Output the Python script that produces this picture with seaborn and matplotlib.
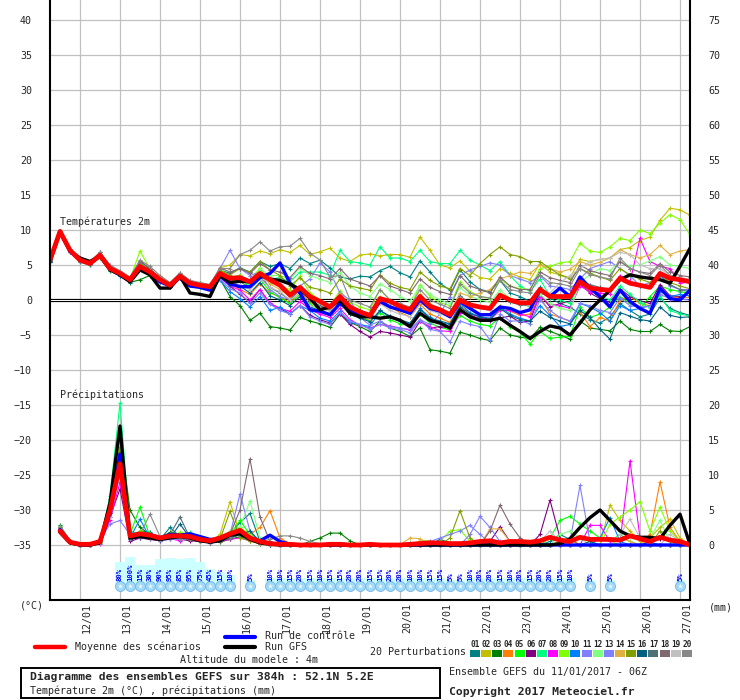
import numpy as np
import pandas as pd
import matplotlib
matplotlib.use("Agg")
import matplotlib.pyplot as plt
import matplotlib.transforms as mtransforms
from matplotlib.lines import Line2D
from matplotlib.patches import Rectangle
import seaborn as sns

sns.set_style("white")
plt.rcParams['font.family'] = ['DejaVu Sans Mono', 'DejaVu Sans']

# ---------------- data ----------------
hours_t = list(range(0, 385, 6))      # temperature steps (h since 11/01 06Z)
hours_p = list(range(6, 385, 6))      # precipitation steps
day_hours = list(range(18, 385, 24))  # 00Z of each day
day_labels = ["12/01", "13/01", "14/01", "15/01", "16/01", "17/01", "18/01", "19/01",
              "20/01", "21/01", "22/01", "23/01", "24/01", "25/01", "26/01", "27/01"]

t_mean = [5.7, 9.8, 7.1, 5.7, 5.2, 6.4, 4.5, 3.8, 2.9, 4.8, 4.0, 2.9, 2.1, 3.4, 2.4, 2.1, 1.9,
          3.8, 3.1, 3.2, 2.6, 3.8, 2.9, 2.1, 0.7, 1.8, 0.5, -0.2, -1.0, 0.5, -1.0, -1.7, -2.2,
          0.2, -0.2, -0.9, -1.4, 0.5, -0.9, -1.4, -2.1, 0.0, -0.7, -1.0, -1.2, 0.7, 0.0, -0.4, -0.4,
          1.5, 0.5, 0.5, 0.5, 2.6, 1.7, 1.5, 1.4, 3.1, 2.4, 2.1, 1.8, 3.8, 3.1, 2.9, 2.6]
t_gfs = [5.5, 9.7, 7.0, 6.0, 5.5, 6.3, 4.3, 3.6, 2.6, 4.3, 3.6, 1.7, 1.7, 3.4, 1.0, 0.8, 0.5,
         3.5, 2.5, 2.7, 2.6, 3.5, 3.0, 2.8, 2.3, 1.5, 0.3, -1.4, -1.0, 0.0, -1.9, -2.4, -2.4,
         -2.6, -2.4, -2.9, -3.8, -1.9, -2.9, -3.3, -4.0, -1.4, -2.4, -2.9, -2.9, -2.6, -3.6, -4.5, -5.5,
         -4.5, -3.7, -4.0, -5.0, -3.3, -1.4, 0.0, 1.4, 2.9, 3.6, 3.3, 3.1, 2.9, 2.4, 4.8, 7.4]
t_ctrl = [5.6, 9.8, 7.0, 5.8, 5.2, 6.4, 4.4, 3.6, 2.7, 4.5, 3.7, 2.6, 2.0, 3.2, 2.0, 1.8, 1.4,
          3.5, 2.3, 1.9, 1.9, 3.2, 3.8, 5.3, 2.4, 1.0, -1.4, -1.6, -2.1, -0.5, -1.4, -2.1, -2.2,
          -0.2, -1.0, -1.4, -1.9, 0.0, -1.2, -1.6, -2.4, -0.2, -1.2, -2.1, -2.1, -1.0, -1.2, -1.8, -1.4,
          1.4, 0.5, 1.7, 0.5, 3.3, 1.7, 0.5, -1.0, 1.4, -0.2, -1.2, -1.9, 1.7, 0.2, 0.0, 1.4]

t01 = [5.5, 9.6, 7.3, 5.9, 5.0, 6.6, 4.8, 3.9, 3.1, 5.1, 4.3, 3.2, 2.4, 3.7, 2.6, 2.3, 2.0,
       4.3, 3.8, 4.6, 4.0, 5.5, 4.8, 5.2, 4.5, 6.0, 5.2, 5.7, 4.6, 3.3, 3.0, 3.4, 3.3,
       4.2, 4.8, 3.9, 3.3, 5.6, 4.0, 2.4, 1.4, 4.3, 2.6, 1.5, 1.2, 2.8, 1.0, 0.5, -0.2,
       1.8, 0.3, -0.5, -1.0, -2.0, -2.8, -3.3, -2.4, -0.5, -1.5, -2.4, -2.0, 0.3, -1.2, -1.8, -2.2]
t02 = [5.8, 9.9, 7.0, 5.5, 5.3, 6.2, 4.6, 3.6, 2.8, 4.6, 3.8, 2.7, 1.9, 3.3, 2.2, 1.9, 1.7,
       4.6, 5.0, 6.5, 6.3, 7.0, 6.6, 7.2, 6.8, 7.8, 6.5, 6.9, 7.4, 6.0, 5.5, 6.4, 6.6,
       6.3, 6.5, 6.5, 6.1, 9.0, 7.1, 5.0, 4.6, 5.6, 4.1, 3.2, 3.0, 4.5, 3.8, 3.3, 2.9,
       5.2, 4.0, 3.6, 3.2, 5.8, 5.5, 5.8, 6.0, 7.2, 7.5, 8.5, 9.0, 11.4, 13.1, 12.9, 12.1]
t03 = [5.6, 9.7, 6.9, 5.6, 5.1, 6.0, 4.2, 3.5, 2.5, 2.9, 3.5, 2.7, 1.8, 3.2, 2.2, 1.9, 1.6,
       3.0, 0.5, -0.8, -2.9, -1.9, -3.8, -4.0, -4.3, -2.5, -3.0, -3.4, -3.9, -2.0, -3.2, -3.8, -4.5,
       -3.0, -4.0, -4.5, -5.2, -4.0, -7.1, -7.3, -7.6, -4.6, -5.0, -5.5, -5.8, -4.0, -5.0, -5.3, -5.5,
       -3.9, -4.5, -5.0, -5.6, -3.0, -4.0, -4.2, -4.4, -3.0, -4.2, -4.5, -4.5, -3.5, -4.4, -4.5, -3.8]
t04 = [5.7, 9.8, 7.2, 5.8, 5.3, 6.5, 4.6, 4.0, 3.0, 4.9, 4.1, 3.4, 2.3, 3.6, 2.5, 2.2, 2.0,
       3.5, 2.5, 1.5, 0.8, 2.3, 1.0, 0.5, -0.4, 1.2, -0.3, -1.0, -1.5, 0.0, -1.8, -2.5, -2.9,
       -0.4, -1.0, -1.8, -2.4, -0.6, -2.0, -2.6, -3.2, -0.8, -1.9, -2.4, -2.6, -0.8, -1.6, -2.2, -2.0,
       0.5, -2.0, -2.5, -3.0, -1.7, -3.8, -2.5, -3.0, 0.0, 0.5, -0.5, -0.8, 1.7, 0.5, 0.3, 0.4]
t05 = [5.6, 9.7, 7.0, 5.4, 5.0, 6.3, 4.4, 3.7, 2.8, 5.3, 4.2, 2.9, 2.0, 3.5, 2.1, 1.8, 1.6,
       3.9, 2.9, 3.6, 1.5, 3.0, 1.2, 0.3, -0.5, 0.8, -0.6, -1.4, -2.0, -0.5, -2.0, -2.5, -3.0,
       -1.8, -2.8, -3.4, -3.6, -2.0, -3.3, -3.9, -4.3, -2.2, -3.0, -3.5, -3.7, -2.5, -3.8, -4.6, -6.3,
       -4.5, -5.5, -5.3, -5.2, -1.0, -2.5, -2.0, -1.0, 0.5, -0.5, -1.2, 0.5, 2.0, 1.5, 1.2, 1.0]
t06 = [5.5, 9.5, 6.8, 5.6, 5.3, 6.8, 4.9, 3.9, 3.1, 5.6, 4.4, 3.0, 2.2, 3.4, 2.4, 2.1, 1.8,
       3.3, 2.0, 0.8, -0.3, 1.5, -0.5, -1.2, -2.0, -0.8, -2.2, -2.8, -3.3, -2.0, -3.5, -4.5, -5.3,
       -4.5, -4.7, -5.0, -5.3, -3.0, -4.0, -3.8, -4.0, -1.5, -2.3, -2.9, -3.0, -2.6, -2.3, -3.2, -3.0,
       0.8, -1.0, -0.5, -0.2, 2.3, 1.0, 0.2, -0.3, 1.6, 0.5, -0.1, -0.5, 2.2, 0.6, 0.5, 1.0]
t07 = [5.8, 9.9, 7.1, 5.7, 5.3, 6.5, 4.6, 3.8, 2.8, 5.0, 4.1, 3.0, 2.2, 3.5, 2.5, 2.4, 2.0,
       4.0, 3.4, 2.8, 2.2, 4.3, 3.0, 3.2, 2.6, 4.0, 4.0, 4.0, 3.5, 7.1, 5.5, 5.3, 5.0,
       7.6, 6.0, 6.0, 5.5, 7.1, 5.5, 5.2, 5.2, 7.1, 5.7, 5.0, 4.2, 5.5, 3.5, 2.0, 1.2,
       3.0, 0.5, 0.0, -0.5, 2.5, 1.3, 0.6, 0.0, 2.0, 0.8, -0.3, -1.2, 0.6, -1.5, -2.0, -2.3]
t08 = [5.6, 9.8, 7.0, 5.6, 5.2, 6.3, 4.5, 3.6, 2.8, 4.7, 3.9, 2.8, 2.0, 3.3, 2.3, 2.0, 1.8,
       3.2, 2.0, 1.4, 0.0, 1.5, -0.5, -1.2, -1.6, -0.2, -1.4, -2.0, -2.5, -1.2, -2.8, -3.6, -4.0,
       -3.5, -3.7, -4.0, -4.3, -3.0, -3.8, -4.4, -4.5, -1.8, -2.2, -2.6, -2.8, -1.5, -1.5, -2.0, -2.4,
       0.5, -0.6, -0.8, -1.2, 2.0, 1.2, 1.0, 0.8, 3.5, 2.6, 8.8, 5.5, 4.8, 4.5, 2.4, 2.6]
t09 = [5.7, 9.8, 7.1, 5.8, 5.3, 6.6, 4.7, 3.9, 3.0, 7.0, 4.4, 3.1, 2.2, 3.6, 2.6, 2.3, 2.1,
       4.5, 3.3, 3.5, 2.8, 4.6, 2.5, 2.0, 1.5, 3.4, 1.0, 0.0, -0.8, 1.3, -0.3, -1.0, -1.4,
       1.5, 0.0, -0.6, -1.2, 2.2, 0.5, -0.4, -0.8, 2.6, 1.2, 0.5, 0.2, 3.0, 2.0, 1.6, 1.5,
       4.5, 4.8, 5.3, 5.5, 8.1, 7.0, 6.8, 7.6, 8.8, 8.5, 10.0, 9.5, 11.0, 12.2, 11.5, 9.3]
t10 = [5.5, 9.6, 6.9, 5.6, 5.1, 6.2, 4.3, 3.5, 2.6, 4.5, 3.7, 2.6, 1.9, 3.1, 2.2, 2.0, 1.7,
       2.8, 1.2, 0.2, -1.0, 0.5, -1.5, -1.0, -2.0, -0.8, -1.5, -2.6, -3.0, -1.6, -3.2, -3.5, -3.8,
       -1.5, -2.5, -3.0, -3.4, -1.2, -2.5, -3.2, -3.5, -0.5, -1.8, -2.4, -2.6, -1.0, -2.0, -2.6, -3.0,
       -0.8, -2.2, -3.8, -3.5, -0.5, -1.0, -1.8, -3.0, -0.8, -1.5, -1.2, -0.8, 1.2, 0.5, 0.8, 0.6]
t11 = [5.7, 9.7, 7.2, 5.7, 5.2, 6.4, 4.5, 3.8, 2.9, 4.8, 4.0, 2.9, 2.1, 3.4, 2.4, 2.1, 1.9,
       4.5, 7.1, 4.5, 3.5, 4.0, 1.5, 0.5, 0.0, 2.0, 3.0, 5.3, 4.0, 1.0, 0.0, -2.5, -3.6,
       -3.0, -3.8, -4.0, -4.2, -2.8, -3.5, -2.0, 0.5, 3.5, 4.3, 4.8, 5.3, 5.0, 3.5, 3.0, 2.5,
       3.5, 2.0, 1.8, 1.5, 3.0, 4.5, 5.0, 5.5, 4.5, 3.5, 2.0, 2.5, 3.5, 2.0, 1.5, 1.5]
t12 = [5.8, 9.9, 7.0, 5.7, 5.3, 6.5, 4.6, 3.9, 3.0, 4.9, 4.1, 3.0, 2.2, 3.5, 2.5, 2.3, 2.0,
       4.0, 3.2, 3.0, 2.5, 4.4, 3.5, 3.5, 3.0, 4.6, 3.5, 3.0, 2.5, 4.0, 2.0, 1.0, 0.5,
       2.3, 1.5, 0.5, -0.2, 2.0, 0.8, 0.0, -0.5, 1.8, 0.6, 0.0, -0.3, 1.4, 0.3, -0.5, -1.0,
       0.8, -0.5, -1.2, -1.5, 2.5, 3.6, 4.5, 4.2, 5.5, 4.8, 5.0, 5.6, 6.2, 5.0, 4.8, 4.5]
t13 = [5.6, 9.7, 6.9, 5.5, 5.0, 6.2, 4.4, 3.7, 2.8, 4.6, 3.8, 2.7, 1.9, 3.2, 2.3, 2.0, 1.8,
       3.0, 1.6, 1.0, -0.5, 1.0, -0.6, -1.5, -2.0, -0.8, -2.4, -3.0, -3.5, -1.8, -3.0, -3.5, -4.2,
       -3.4, -4.0, -4.2, -4.7, -2.8, -4.2, -4.5, -6.0, -3.0, -3.5, -3.8, -5.7, -2.0, -3.0, -3.0, -3.4,
       0.0, -1.5, -2.5, -3.0, -0.5, -0.8, -1.5, -1.8, 0.3, -0.8, -1.0, -0.9, 0.8, 0.2, 0.1, 0.0]
t14 = [5.7, 9.8, 7.1, 5.7, 5.2, 6.3, 4.5, 3.8, 2.9, 4.9, 4.1, 3.3, 2.0, 3.4, 2.7, 2.2, 1.8,
       3.8, 3.0, 3.4, 2.8, 3.6, 2.3, 1.5, 0.5, 2.0, 0.3, -0.4, -1.0, 0.8, -0.8, -1.5, -2.0,
       0.5, -0.3, -1.0, -1.5, 0.8, -0.6, -1.3, -1.8, 1.0, 0.5, 1.0, 1.5, 3.0, 3.5, 4.0, 3.8,
       5.0, 4.5, 4.0, 4.4, 5.5, 5.0, 5.4, 6.0, 7.2, 6.5, 6.0, 6.5, 7.8, 6.5, 7.0, 7.2]
t15 = [5.6, 9.8, 7.2, 5.8, 5.3, 6.5, 4.4, 3.8, 2.9, 4.7, 4.0, 2.9, 2.1, 3.3, 2.5, 2.2, 1.9,
       4.2, 3.6, 4.5, 4.0, 5.5, 4.3, 3.5, 2.0, 3.2, 1.8, 1.5, 1.0, 3.0, 2.0, 1.7, 1.4,
       3.6, 2.4, 1.8, 1.5, 4.0, 2.8, 2.0, 1.6, 4.5, 3.5, 5.2, 6.5, 7.6, 6.5, 6.2, 5.5,
       5.5, 4.5, 3.6, 3.0, 4.5, 3.8, 3.3, 2.8, 4.5, 3.6, 3.0, 2.5, 3.8, 2.5, 2.0, 1.6]
t16 = [5.6, 9.7, 7.0, 5.6, 5.1, 6.3, 4.4, 3.6, 2.7, 4.6, 3.8, 2.7, 2.0, 3.2, 2.3, 2.0, 1.7,
       3.4, 2.2, 2.0, 1.0, 2.5, 0.6, 0.0, -0.8, 0.5, -1.0, -1.5, -2.0, -0.6, -2.0, -2.6, -3.1,
       -1.5, -2.3, -2.8, -3.3, -1.4, -2.6, -3.0, -3.4, -1.0, -2.0, -2.4, -2.8, -1.2, -2.2, -2.8, -3.0,
       -1.6, -2.5, -3.0, -3.4, -1.5, -2.5, -4.2, -5.6, -1.8, -2.3, -2.8, -3.0, -1.0, -2.2, -2.5, -2.4]
t17 = [5.7, 9.8, 7.1, 5.7, 5.2, 6.4, 4.5, 3.7, 2.8, 4.8, 4.0, 2.8, 2.0, 3.3, 2.4, 2.1, 1.8,
       3.7, 2.8, 2.6, 1.8, 3.2, 1.8, 1.0, 0.0, 1.5, 0.0, -0.8, -1.3, 0.5, -1.0, -1.5, -2.2,
       0.0, -0.8, -1.4, -1.8, 0.3, -0.8, -1.5, -2.0, 0.6, -0.5, -1.0, -1.5, 0.5, -0.3, -0.7, -0.8,
       1.5, 0.8, 0.5, 0.5, 2.8, 2.2, 1.8, 1.5, 3.2, 2.5, 2.0, 2.0, 3.6, 2.2, 1.5, 1.2]
t18 = [5.8, 9.9, 7.2, 5.9, 5.4, 6.8, 4.8, 4.0, 3.1, 5.5, 4.5, 3.2, 2.3, 3.8, 2.7, 2.4, 2.2,
       4.6, 4.0, 4.5, 3.8, 5.2, 4.3, 4.0, 3.2, 4.8, 3.8, 3.5, 3.0, 4.5, 3.0, 2.5, 2.0,
       3.5, 2.0, 1.5, 1.0, 3.0, 1.8, 1.2, 0.8, 3.5, 2.0, 1.5, 1.0, 3.3, 2.0, 1.5, 1.5,
       4.0, 3.2, 2.8, 2.5, 5.0, 4.2, 3.8, 3.5, 5.5, 4.5, 4.0, 3.8, 5.2, 4.0, 3.5, 3.3]
t19 = [5.7, 9.8, 7.1, 5.7, 5.3, 6.5, 4.6, 3.9, 3.0, 4.9, 4.1, 3.0, 2.2, 3.5, 2.4, 2.2, 2.0,
       3.6, 2.6, 2.2, 1.5, 3.0, 1.8, 1.2, 0.0, 1.0, -0.8, -1.2, -1.6, 0.2, -1.4, -2.0, -2.6,
       -0.5, -1.5, -2.0, -2.4, -0.2, -1.5, -2.0, -2.4, 0.3, -0.8, -1.2, -1.5, 0.5, 0.0, -0.5, -0.8,
       1.5, 1.0, 2.5, 3.5, 4.5, 5.5, 5.8, 6.0, 6.8, 6.5, 5.0, 4.5, 4.5, 3.5, 3.2, 3.0]
t20 = [5.8, 9.9, 7.3, 6.0, 5.5, 6.8, 5.0, 4.2, 3.3, 5.7, 4.8, 3.5, 2.5, 3.9, 2.8, 2.5, 2.2,
       4.5, 4.5, 6.5, 7.1, 8.3, 7.0, 7.6, 7.7, 8.8, 6.7, 5.7, 3.3, 3.5, 0.0, -0.5, -1.0,
       1.5, 0.0, -0.5, -1.0, 1.5, 0.0, -0.6, -1.2, 2.3, 1.0, 0.5, 0.3, 2.8, 1.5, 1.2, 1.0,
       3.6, 2.5, 2.3, 2.0, 4.5, 3.6, 3.3, 3.0, 6.0, 4.5, 4.0, 3.5, 5.0, 3.5, 3.0, 2.5]

p_mean = [2.0, 0.4, 0.1, 0.1, 0.5, 5.0, 11.6, 1.3, 1.6, 1.4, 1.0, 1.3, 1.3, 1.2, 0.8, 0.6, 1.0, 1.6, 2.1, 1.0,
          0.5, 0.2, 0.1, 0.1, 0.0, 0.0, 0.0, 0.1, 0.1, 0.0, 0.0, 0.1, 0.0, 0.0, 0.0, 0.1, 0.2, 0.3, 0.3, 0.2,
          0.2, 0.3, 0.5, 0.6, 0.3, 0.5, 0.5, 0.4, 0.6, 1.1, 0.7, 0.5, 1.1, 0.8, 0.8, 0.8, 0.7, 1.3, 0.9, 0.5,
          1.1, 0.7, 0.5, 0.0]
p_gfs = [1.8, 0.3, 0, 0, 0.3, 6.0, 17.0, 1.0, 1.2, 1.0, 0.8, 1.0, 1.2, 1.0, 0.6, 0.4, 0.6, 1.4, 1.6, 0.8,
         0.3, 0.1, 0, 0, 0, 0, 0, 0, 0, 0, 0, 0, 0, 0, 0, 0, 0, 0, 0, 0,
         0, 0, 0, 0, 0, 0, 0, 0, 0, 0, 0.2, 0.9, 2.5, 3.9, 5.0, 3.5, 2.0, 1.3, 1.1, 1.1,
         0.9, 2.8, 4.4, 0.1]
p_ctrl = [2.2, 0.4, 0, 0, 0.4, 4.5, 13.0, 1.2, 1.5, 1.5, 1.0, 1.5, 1.4, 1.6, 1.2, 0.8, 0.8, 1.5, 1.8, 1.0,
          0.6, 1.4, 0.5, 0.1, 0, 0, 0, 0, 0, 0, 0, 0, 0, 0, 0, 0, 0, 0, 0, 0,
          0, 0, 0, 0, 0, 0, 0, 0, 0, 0, 0, 0, 0, 0, 0, 0, 0, 0, 0, 0,
          0, 0, 0, 0]

p01 = [2.6, 0.5, 0, 0, 0.6, 6.5, 14.0, 1.2, 2.0, 1.8, 0.8, 2.5, 1.2, 0.8, 0.5, 0.3, 0.6, 1.5, 3.2, 4.5,
       0.5, 0.2, 0, 0, 0, 0, 0, 0, 0, 0, 0, 0, 0, 0, 0, 0, 0, 0, 0.8, 0.3,
       0, 0, 0, 0, 0, 0, 0, 0, 0, 0.5, 1.5, 0.8, 0, 0, 0, 0, 0, 0, 0, 0.4,
       0, 0, 0, 0]
p02 = [2.4, 0.4, 0, 0, 0.3, 4.5, 12.0, 0.8, 1.2, 1.0, 0.6, 1.5, 1.0, 0.8, 0.6, 0.4, 1.5, 6.2, 1.5, 0.5,
       0.2, 0, 0, 0, 0, 0, 0, 0, 0, 0, 0, 0, 0, 0, 0, 0, 0.6, 0.6, 0, 0,
       0, 0, 0, 0, 0, 0, 0, 0, 0, 0, 0, 0, 0, 0, 0, 5.7, 3.5, 2.0, 0.5, 1.0,
       2.5, 3.7, 1.0, 0]
p03 = [2.8, 0.6, 0, 0, 0.4, 6.0, 16.0, 5.0, 2.5, 1.5, 1.0, 1.8, 1.5, 1.2, 0.8, 0.5, 0.4, 0.8, 1.2, 1.0,
       0.3, 0.1, 0, 0, 0, 0.5, 1.0, 1.7, 1.7, 0.6, 0, 0, 0, 0, 0, 0, 0, 0, 0, 0,
       0, 0, 0, 0, 0, 0, 0.4, 0.4, 0, 0, 0, 0, 0, 0, 0, 0, 0, 0, 0, 0,
       0, 0, 0, 0]
p04 = [2.3, 0.4, 0, 0, 0.5, 5.0, 10.0, 1.5, 1.8, 1.5, 1.0, 1.2, 1.5, 1.0, 0.6, 0.5, 0.8, 1.0, 2.0, 1.5,
       2.5, 4.9, 1.0, 0.2, 0, 0, 0, 0, 0, 0, 0, 0, 0, 0, 0, 0, 0, 0, 0, 0,
       0, 0, 0, 0, 0, 0, 0, 0, 0, 0, 0.5, 1.0, 0, 0, 0, 0, 0, 0, 0, 1.5,
       9.0, 2.5, 0.5, 0]
p05 = [2.5, 0.5, 0, 0, 0.3, 5.5, 13.0, 1.5, 5.4, 1.2, 0.8, 1.0, 1.3, 1.5, 0.8, 0.5, 0.7, 1.5, 3.5, 1.5,
       0.8, 0.2, 0, 0, 0, 0, 0, 0, 0, 0, 0, 0, 0, 0, 0, 0, 0, 0, 0, 0,
       0, 0, 0, 0, 0, 0, 0, 0, 0, 1.0, 3.5, 4.1, 3.0, 2.0, 1.0, 0.5, 0, 0, 0, 0,
       0, 0, 0, 0]
p06 = [2.2, 0.4, 0, 0, 0.8, 4.0, 8.0, 0.5, 1.0, 0.8, 0.6, 1.0, 0.8, 0.6, 0.5, 0.3, 0.5, 1.0, 1.5, 0.8,
       0.3, 0.1, 0, 0, 0, 0, 0, 0, 0, 0, 0, 0, 0, 0, 0, 0, 0, 0, 0, 0,
       0, 0, 0, 0.5, 2.6, 0.5, 0, 0, 1.5, 6.4, 1.0, 0, 0, 0, 0, 0, 0, 0, 0, 0.5,
       0.8, 0.8, 0.3, 0]
p07 = [2.7, 0.6, 0, 0, 0.5, 7.0, 20.3, 2.0, 1.5, 1.2, 0.8, 1.4, 1.5, 1.8, 0.8, 0.4, 0.6, 1.2, 2.5, 1.2,
       0.3, 0.1, 0, 0, 0, 0, 0, 0, 0, 0, 0, 0, 0, 0, 0, 0, 0.3, 0.3, 0, 0,
       0, 0, 0, 0, 0, 0, 0, 0, 0, 0, 0, 0, 0, 0, 1.0, 0.5, 1.5, 0.5, 0, 0,
       0, 0, 0, 0]
p08 = [2.4, 0.4, 0, 0, 0.2, 3.5, 9.0, 0.8, 1.0, 1.0, 0.8, 0.9, 0.6, 1.2, 0.5, 0.4, 0.5, 0.8, 1.0, 0.6,
       0.2, 0, 0, 0, 0, 0, 0, 0, 0, 0, 0, 0, 0, 0, 0, 0, 0, 0, 0, 0,
       0, 0, 0, 0, 0, 0, 0, 0, 0, 0, 0, 0, 0, 2.8, 2.8, 0.5, 0.5, 12.0, 1.0, 0,
       0, 0, 0, 0]
p09 = [2.6, 0.5, 0, 0, 0.4, 5.0, 15.0, 1.0, 2.0, 1.5, 1.0, 1.0, 1.8, 1.5, 1.2, 0.6, 0.8, 2.0, 2.5, 1.5,
       0.5, 0.1, 0, 0, 0, 0, 0, 0, 0, 0, 0, 0, 0, 0, 0, 0, 0, 0, 0.5, 2.0,
       2.2, 0.5, 0, 0, 0, 0, 0, 0, 0, 0, 0, 0, 0, 0, 0, 3.0, 4.0, 5.0, 6.2, 2.0,
       5.4, 2.0, 0.5, 0]
p10 = [2.3, 0.4, 0, 0, 0.6, 4.5, 11.0, 1.0, 3.7, 1.0, 0.8, 1.0, 0.9, 0.8, 0.6, 0.4, 0.8, 1.2, 1.8, 1.0,
       0.4, 0.1, 0, 0, 0, 0, 0, 0, 0, 0, 0, 0, 0, 0, 0, 0, 0, 0, 0, 0,
       0, 0, 0, 0, 0, 0, 0, 0, 0, 0, 0, 0, 0, 0, 1.0, 3.9, 0.5, 0, 0, 0,
       0, 0, 0, 0]
p11 = [2.2, 0.4, 0, 0, 0.6, 3.0, 3.5, 1.5, 1.0, 1.0, 0.6, 0.8, 0.8, 1.0, 0.5, 0.4, 0.5, 1.5, 7.3, 2.0,
       0.3, 0, 0, 0, 0, 0, 0, 0, 0, 0, 0, 0, 0, 0, 0, 0, 0, 0, 0, 0,
       0, 1.5, 4.1, 2.5, 0.5, 0, 0, 0, 0, 0, 0, 0.5, 8.5, 0.5, 0, 0, 0, 0, 0, 0,
       0, 0, 0, 0]
p12 = [2.5, 0.5, 0, 0, 0.4, 5.5, 12.5, 1.2, 1.5, 1.2, 0.8, 1.5, 1.2, 0.9, 0.6, 0.4, 0.6, 1.2, 2.5, 6.3,
       1.0, 0.2, 0, 0, 0, 0, 0, 0, 0, 0, 0, 0, 0, 0, 0, 0, 0, 0, 0, 0,
       0, 0, 0, 0, 0, 0, 0, 0, 0, 0, 1.5, 2.0, 1.0, 0, 0, 0, 0, 0, 0, 1.0,
       3.5, 0.5, 0, 0]
p13 = [2.4, 0.5, 0, 0, 0.5, 4.0, 10.0, 0.8, 1.2, 1.0, 0.7, 1.0, 0.9, 0.8, 0.6, 0.4, 0.7, 1.0, 1.5, 0.8,
       0.3, 0, 0, 0, 0, 0, 0, 0, 0, 0, 0, 0, 0, 0, 0, 0, 0, 0.5, 1.0, 1.5,
       2.0, 2.8, 1.5, 0.3, 0, 0, 0, 0, 0, 0, 0, 0, 0, 0, 0, 0, 0, 0, 0, 0,
       0, 0, 0, 0]
p14 = [2.5, 0.5, 0, 0, 0.4, 5.0, 13.5, 1.0, 1.5, 1.3, 0.9, 1.2, 1.0, 1.6, 0.6, 0.4, 0.6, 1.0, 1.5, 1.0,
       0.3, 0.1, 0, 0, 0, 0, 0, 0, 0, 0, 0, 0, 0, 0, 0, 1.0, 0.9, 0, 0, 0,
       0, 0, 0, 2.3, 2.3, 0.5, 0, 0, 0, 0, 0, 0, 0, 0, 0, 0, 1.0, 0.5, 0, 0,
       0, 0, 0, 0]
p15 = [2.6, 0.5, 0, 0, 0.4, 5.5, 14.0, 1.0, 1.5, 1.2, 0.8, 1.2, 1.0, 0.8, 0.6, 0.4, 0.8, 4.8, 1.0, 0.6,
       0.2, 0, 0, 0, 0, 0, 0, 0, 0, 0, 0, 0, 0, 0, 0, 0, 0, 0, 0, 1.0,
       4.9, 1.0, 0, 0, 0, 0, 0, 0, 0, 0, 0, 0, 0, 0, 0, 0, 0, 0, 0, 0,
       2.0, 0.5, 0, 0]
p16 = [2.3, 0.4, 0, 0, 0.5, 4.5, 12.0, 0.8, 1.2, 1.0, 0.7, 1.0, 3.0, 1.0, 0.6, 0.4, 0.6, 1.0, 1.5, 2.0,
       0.5, 0, 0, 0, 0, 0, 0, 0, 0, 0, 0, 0, 0, 0, 0, 0, 0, 0, 0, 0,
       0, 0, 0, 0, 0, 0, 0, 0, 0, 0, 0, 0, 0, 0.5, 0, 0, 0, 0, 0, 0,
       0, 0, 0, 0]
p17 = [2.4, 0.5, 0, 0, 0.5, 5.0, 12.5, 1.0, 1.2, 1.5, 1.0, 1.5, 4.0, 1.0, 0.6, 0.4, 0.6, 1.0, 1.8, 1.0,
       0.4, 0.1, 0, 0, 0, 0, 0, 0, 0, 0, 0, 0, 0, 0, 0, 0.3, 0, 0, 0, 0,
       0, 0, 0, 0, 0, 0, 0, 0, 0, 0, 0, 0, 0, 0, 0, 0, 0, 0, 0, 0,
       0, 0, 0, 0]
p18 = [2.5, 0.5, 0, 0, 0.4, 4.5, 11.5, 1.0, 1.3, 1.0, 0.8, 1.0, 1.0, 0.9, 0.6, 0.4, 0.6, 1.5, 5.0, 12.3,
       4.0, 0.5, 0, 0, 0, 0, 0, 0, 0, 0, 0, 0, 0, 0, 0, 0, 0, 0, 0, 0,
       0, 0, 0, 2.0, 5.7, 3.0, 1.0, 0, 0, 0, 0, 0, 0, 0, 0, 0, 0, 0, 0, 0,
       0, 0, 0, 0]
p19 = [2.4, 0.5, 0, 0, 0.3, 4.0, 10.5, 1.0, 1.5, 1.0, 0.8, 1.0, 1.2, 1.0, 0.5, 0.4, 0.8, 1.5, 2.2, 1.0,
       0.3, 0.1, 0, 0, 0, 0, 0, 0, 0, 0, 0, 0, 0, 0, 0, 0, 0, 0, 0, 0,
       0, 0, 0, 0, 0, 0, 0, 0, 0.5, 2.0, 0.5, 0, 0, 0, 0, 0, 1.5, 3.7, 1.0, 0,
       0, 1.5, 0.5, 0]
p20 = [2.6, 0.6, 0, 0, 0.5, 5.0, 13.0, 1.5, 1.5, 4.4, 1.2, 1.5, 1.0, 0.9, 0.6, 0.5, 0.8, 1.2, 2.0, 1.2,
       0.5, 0.8, 1.3, 1.3, 1.0, 0.5, 0.2, 0, 0, 0, 0, 0, 0, 0, 0, 0, 0, 0, 0, 0,
       0, 0, 0, 0, 0, 0, 0, 0, 0, 0, 0, 0, 0, 0, 0, 0, 0, 0, 0, 0,
       0, 0, 0, 0]

member_names = ["01", "02", "03", "04", "05", "06", "07", "08", "09", "10",
                "11", "12", "13", "14", "15", "16", "17", "18", "19", "20"]
member_colors = ["#008080", "#c0c000", "#008000", "#ff8000", "#00ff00", "#800080", "#00ff80",
                 "#ff00ff", "#80ff00", "#0080ff", "#8080ff", "#80ff80", "#8080ff", "#e0b040",
                 "#80a000", "#006080", "#507078", "#806870", "#c0c0c0", "#888888"]
member_temps = [t01, t02, t03, t04, t05, t06, t07, t08, t09, t10,
                t11, t12, t13, t14, t15, t16, t17, t18, t19, t20]
member_precs = [p01, p02, p03, p04, p05, p06, p07, p08, p09, p10,
                p11, p12, p13, p14, p15, p16, p17, p18, p19, p20]

snow_hours = [42, 48, 54, 60, 66, 72, 78, 84, 90, 96, 102, 108, 120,
              132, 138, 144, 150, 156, 162, 168, 174, 180, 186, 192, 198, 204, 210, 216, 222,
              228, 234, 240, 246, 252, 258, 264, 270, 276, 282, 288, 294, 300, 306, 312,
              324, 336, 378]
snow_pct = [80, 100, 15, 30, 90, 95, 85, 95, 75, 45, 15, 10, 5,
            10, 10, 15, 20, 15, 10, 15, 15, 20, 20, 15, 15, 20, 20, 10, 10,
            15, 15, 5, 5, 10, 20, 20, 15, 10, 20, 15, 20, 20, 15, 10,
            5, 5, 5]
snow_bar_top = [-37.4, -36.7, -37.8, -37.8, -37.0, -36.8, -37.0, -36.8, -37.5, -38.5, -38.9, -39.3, -40.0,
                -39.7, -39.7, -39.7, -39.7, -39.7, -39.7, -39.7, -39.7, -39.7, -39.7, -39.7, -39.7, -39.7, -39.7,
                -39.7, -39.7, -39.7, -39.7, -40.0, -40.0, -39.7, -39.7, -39.7, -39.7, -39.7, -39.7, -39.7,
                -39.7, -39.7, -39.7, -39.7, -40.0, -40.0, -40.0]

for arr in member_temps + [t_mean, t_gfs, t_ctrl]:
    assert len(arr) == len(hours_t), len(arr)
for arr in member_precs + [p_mean, p_gfs, p_ctrl]:
    assert len(arr) == len(hours_p), len(arr)
assert len(snow_hours) == len(snow_pct) == len(snow_bar_top)

# ---------------- tables ----------------
df_t = pd.DataFrame([(n, h, v) for n, vals in zip(member_names, member_temps)
                     for h, v in zip(hours_t, vals)], columns=["member", "hour", "value"])
df_p = pd.DataFrame([(n, h, v) for n, vals in zip(member_names, member_precs)
                     for h, v in zip(hours_p, vals)], columns=["member", "hour", "value"])
palette = dict(zip(member_names, member_colors))

W, H = 740, 700
def fx(px):
    return px / W
def fy(py):
    return 1 - py / H

fig = plt.figure(figsize=(7.4, 7.0), dpi=100)
ax = fig.add_axes([fx(50), 100 / H, 640 / W, 600 / H])
ax.set_xlim(0, 384)
ax.set_ylim(-42.86, 42.86)
ax.set_axisbelow(True)

FS = 7.2
# grid and axes
ax.set_yticks(list(range(-35, 41, 5)))
ax.set_xticks(day_hours)
ax.set_xticklabels(day_labels, rotation=90, fontsize=FS)
ax.grid(True, color="#c0c0c0", lw=0.9)
ax.tick_params(axis="y", length=0, pad=13, labelsize=FS)
ax.tick_params(axis="x", length=0, pad=2, labelsize=FS)
for lab in ax.get_xticklabels():
    lab.set_transform(lab.get_transform() + mtransforms.ScaledTranslation(7 / 100, 0, fig.dpi_scale_trans))
for s in ["left", "bottom"]:
    ax.spines[s].set_linewidth(1.5)
    ax.spines[s].set_color("black")
ax.spines["top"].set_visible(False)
ax.spines["right"].set_visible(False)

# zero line (double)
ax.axhline(0, color="black", lw=2.3, zorder=1.6)
ax.axhline(0, color="white", lw=0.7, zorder=1.7)

# snow band
bottoms = [-40.9] * len(snow_hours)
ax.bar(snow_hours, [t - b for t, b in zip(snow_bar_top, bottoms)], bottom=bottoms, width=6,
       color="#ccffff", linewidth=0, zorder=1.5)
sns.scatterplot(x=snow_hours, y=bottoms, marker="o", s=52, color="#a2d9f7",
                edgecolor="#6fb6e8", linewidth=0.6, ax=ax, zorder=3, legend=False)
sns.scatterplot(x=snow_hours, y=bottoms, marker="*", s=16, color="#e8f7ff",
                linewidth=0, ax=ax, zorder=3.1, legend=False)
for h, pc in zip(snow_hours, snow_pct):
    ax.text(h, -40.1, f"{pc}%", rotation=90, ha="center", va="bottom", fontsize=5.2,
            fontweight="bold", color="#0000ff", zorder=4)

# temperature members
n0 = len(ax.lines)
sns.lineplot(data=df_t, x="hour", y="value", hue="member", palette=palette, hue_order=member_names,
             estimator=None, sort=False, legend=False, lw=0.8, marker="+", markersize=3.2, ax=ax)
for ln in ax.lines[n0:]:
    ln.set_markeredgecolor(ln.get_color())
    ln.set_markeredgewidth(0.8)
sns.lineplot(x=hours_t, y=t_ctrl, color="#0000ff", lw=2.4, ax=ax, estimator=None, sort=False)
sns.lineplot(x=hours_t, y=t_gfs, color="#000000", lw=2.4, ax=ax, estimator=None, sort=False)
sns.lineplot(x=hours_t, y=t_mean, color="#ff0000", lw=3.4, ax=ax, estimator=None, sort=False)
ax.set_xlabel("")
ax.set_ylabel("")

# precipitation on right axis
ax2 = ax.twinx()
ax2.set_ylim(-7.86, 77.86)
ax2.set_xlim(0, 384)
ax2.set_yticks(list(range(0, 76, 5)))
ax2.tick_params(axis="y", length=0, pad=13, labelsize=FS)
for s in ["left", "top", "bottom"]:
    ax2.spines[s].set_visible(False)
ax2.spines["right"].set_linewidth(1.5)
ax2.spines["right"].set_color("black")
n0 = len(ax2.lines)
sns.lineplot(data=df_p, x="hour", y="value", hue="member", palette=palette, hue_order=member_names,
             estimator=None, sort=False, legend=False, lw=0.8, marker="+", markersize=3.2, ax=ax2)
for ln in ax2.lines[n0:]:
    ln.set_markeredgecolor(ln.get_color())
    ln.set_markeredgewidth(0.8)
sns.lineplot(x=hours_p, y=p_ctrl, color="#0000ff", lw=2.4, ax=ax2, estimator=None, sort=False)
sns.lineplot(x=hours_p, y=p_gfs, color="#000000", lw=2.4, ax=ax2, estimator=None, sort=False)
sns.lineplot(x=hours_p, y=p_mean, color="#ff0000", lw=3.4, ax=ax2, estimator=None, sort=False)
ax2.set_xlabel("")
ax2.set_ylabel("")

# in-plot titles
ax.text(10 / 640, (600 - 222) / 600, "Températures 2m", transform=ax.transAxes,
        fontsize=FS, va="center", ha="left")
ax.text(10 / 640, (600 - 395) / 600, "Précipitations", transform=ax.transAxes,
        fontsize=FS, va="center", ha="left")

# units
fig.text(fx(20), fy(606), "(°C)", fontsize=FS, va="center", ha="left")
fig.text(fx(709), fy(607), "(mm)", fontsize=FS, va="center", ha="left")

# legend
fig.add_artist(Line2D([fx(35), fx(65)], [fy(647), fy(647)], color="#ff0000", lw=3.2,
                      transform=fig.transFigure))
fig.text(fx(75), fy(647), "Moyenne des scénarios", fontsize=FS, va="center", ha="left")
fig.add_artist(Line2D([fx(225), fx(255)], [fy(637), fy(637)], color="#0000ff", lw=3.0,
                      transform=fig.transFigure))
fig.text(fx(265), fy(636), "Run de contrôle", fontsize=FS, va="center", ha="left")
fig.add_artist(Line2D([fx(225), fx(255)], [fy(647), fy(647)], color="#000000", lw=3.0,
                      transform=fig.transFigure))
fig.text(fx(265), fy(647), "Run GFS", fontsize=FS, va="center", ha="left")
fig.text(fx(180), fy(660), "Altitude du modele : 4m", fontsize=FS, va="center", ha="left")
fig.text(fx(370), fy(652), "20 Perturbations", fontsize=FS, va="center", ha="left")
for k, (nm, col) in enumerate(zip(member_names, member_colors)):
    x0 = 470 + k * 11.15
    fig.add_artist(Rectangle((fx(x0), fy(657)), 10 / W, 7 / H, facecolor=col, edgecolor="none",
                             transform=fig.transFigure))
    fig.text(fx(x0 + 5), fy(644.5), nm, fontsize=5.6, fontweight="bold", va="center", ha="center")

# title box
fig.add_artist(Rectangle((fx(21), fy(698)), 419 / W, 30 / H, fill=False, edgecolor="black",
                         lw=1.4, transform=fig.transFigure))
fig.text(fx(30), fy(677), "Diagramme des ensembles GEFS sur 384h : 52.1N 5.2E", fontsize=8.2,
         fontweight="bold", va="center", ha="left")
fig.text(fx(30), fy(691), "Température 2m (°C) , précipitations (mm)", fontsize=FS,
         va="center", ha="left")
fig.text(fx(449), fy(672), "Ensemble GEFS du 11/01/2017 - 06Z", fontsize=FS, va="center", ha="left")
fig.text(fx(449), fy(692), "Copyright 2017 Meteociel.fr", fontsize=8.2, fontweight="bold",
         va="center", ha="left")

fig.savefig("out.png", dpi=100)
